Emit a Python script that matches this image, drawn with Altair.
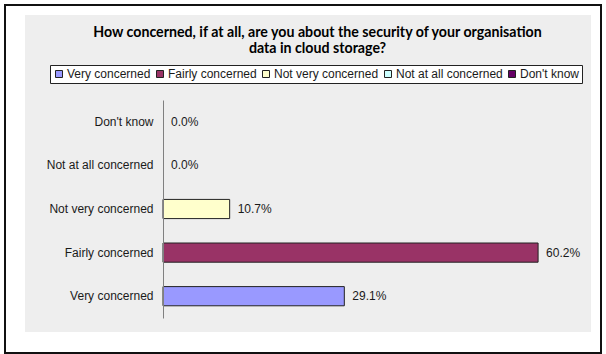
import altair as alt
import pandas as pd

categories = ["Very concerned", "Fairly concerned", "Not very concerned",
              "Not at all concerned", "Don't know"]
values = [29.1, 60.2, 10.7, 0.0, 0.0]
colors = ["#9999FF", "#993366", "#FFFFCC", "#CCFFFF", "#660066"]
title_lines = ["How concerned, if at all, are you about the security of your organisation",
               "data in cloud storage?"]

df = pd.DataFrame({"category": categories, "value": values})
deco = pd.DataFrame({"k": [0]})

FONT = "Liberation Sans"

y_enc = alt.Y("category:N", sort=list(reversed(categories)),
              scale=alt.Scale(paddingInner=0.56, paddingOuter=0.28),
              axis=alt.Axis(title=None, ticks=False, labelPadding=10, labelFontSize=12,
                            labelFont=FONT, labelColor="#1a1a1a", domainColor="#808080",
                            domainWidth=1, zindex=1))
x_enc = alt.X("value:Q", scale=alt.Scale(domain=[0, 65], nice=False, zero=True), axis=None)

panel = alt.Chart(deco).mark_rect(fill="#EEEEEE").encode(
    x=alt.value(-138), x2=alt.value(428), y=alt.value(-85), y2=alt.value(232))
border = alt.Chart(deco).mark_rect(fill=None, stroke="#111111", strokeWidth=2).encode(
    x=alt.value(-158), x2=alt.value(438), y=alt.value(-95), y2=alt.value(253))

bars = alt.Chart(df).mark_bar(stroke="#222222").encode(
    x=x_enc,
    y=y_enc,
    fill=alt.Fill("category:N", scale=alt.Scale(domain=categories, range=colors),
                  legend=alt.Legend(title=None, orient="none", legendX=-113, legendY=-35,
                                    direction="horizontal", columns=5, symbolType="square",
                                    symbolSize=49, symbolStrokeColor="#222222",
                                    symbolStrokeWidth=1, labelFont=FONT, labelFontSize=12,
                                    labelColor="#1a1a1a", labelOffset=2, columnPadding=3,
                                    padding=3, strokeColor="#222222", fillColor="white",
                                    cornerRadius=0)),
    strokeWidth=alt.condition("datum.value > 0", alt.value(1), alt.value(0)),
)

labels = alt.Chart(df).transform_calculate(
    label="format(datum.value, '.1f') + '%'"
).mark_text(align="left", baseline="middle", dx=8, font=FONT, fontSize=12,
            color="#1a1a1a").encode(
    x=x_enc,
    y=y_enc,
    text="label:N",
)

chart = alt.layer(panel, border, bars, labels).properties(
    width=405, height=218,
    padding={"left": 163, "top": 100, "right": 38, "bottom": 36},
    autosize=alt.AutoSizeParams(type="none"),
    background="white",
    title=alt.TitleParams(title_lines, anchor="middle", font="Lato", fontWeight="bold",
                          fontSize=14.2, color="#000000", dx=-48, offset=-52, lineHeight=16),
).configure_view(stroke=None)

chart.save("out.html", embed_options={"renderer": "svg", "actions": False})
